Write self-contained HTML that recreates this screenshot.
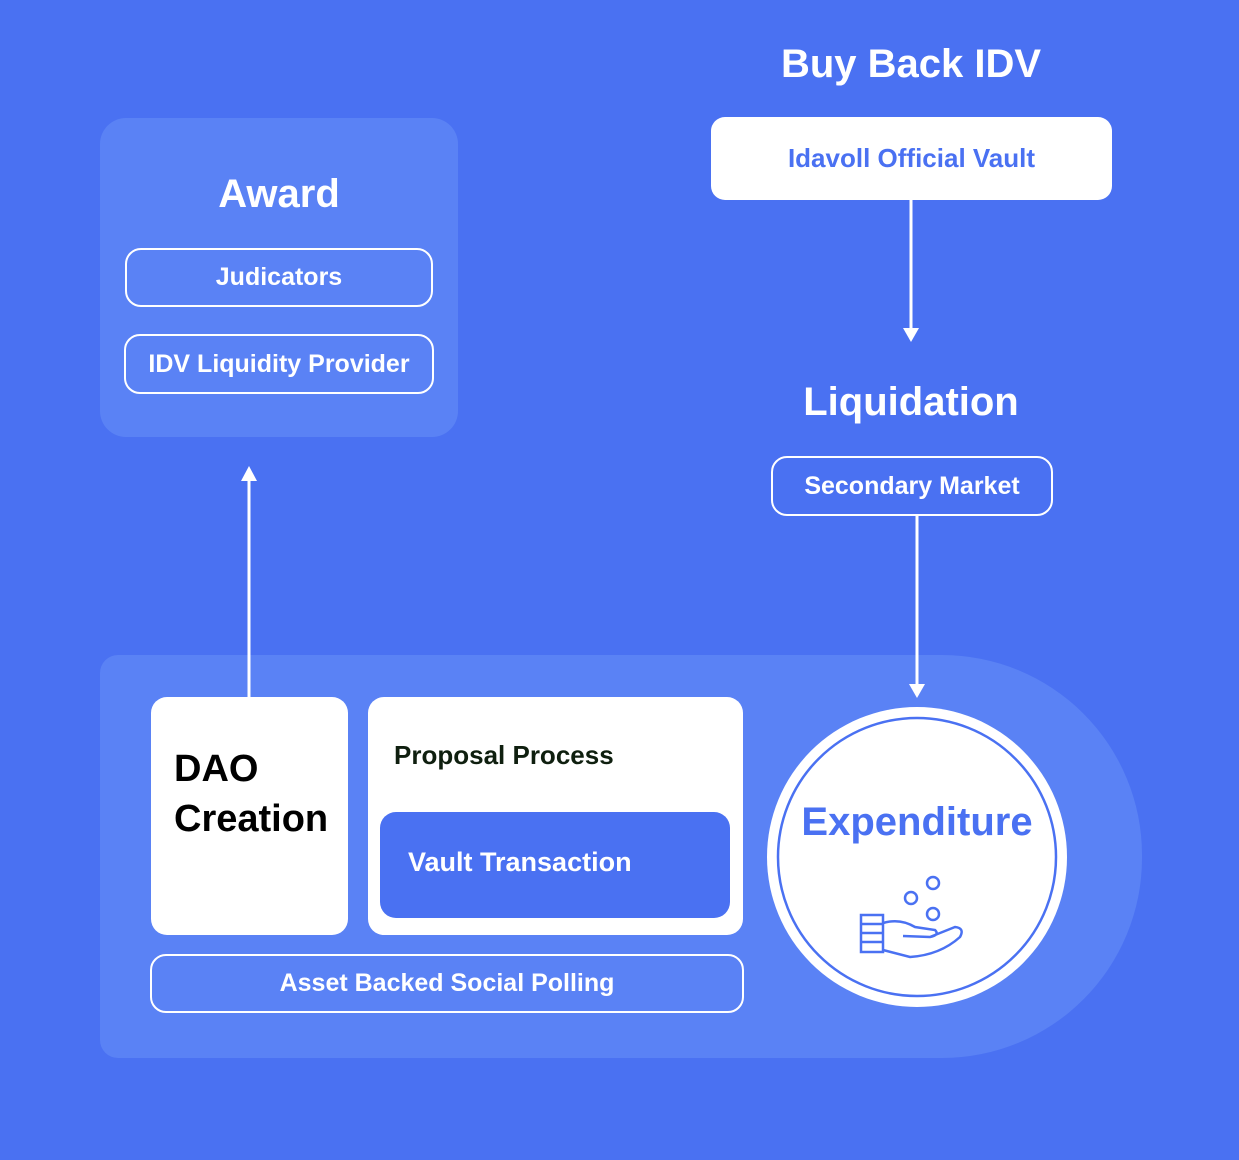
<!DOCTYPE html>
<html><head><style>
body{margin:0;width:1239px;height:1160px;background:#4a71f2;position:relative;overflow:hidden;font-family:"Liberation Sans",sans-serif;font-weight:bold}
.a{position:absolute;box-sizing:border-box}
.pill{border:2.5px solid #fff;border-radius:16px;color:#fff;display:flex;align-items:center;justify-content:center;font-size:25px}
.t{color:#fff;text-align:center}
</style></head><body>
<div class="a" style="left:100px;top:118px;width:358px;height:319px;background:#5a82f5;border-radius:26px"></div>
<div class="a t" style="left:100px;top:172px;width:358px;font-size:40px">Award</div>
<div class="a pill" style="left:125px;top:248px;width:308px;height:59px">Judicators</div>
<div class="a pill" style="left:124px;top:334px;width:310px;height:60px">IDV Liquidity Provider</div>

<div class="a t" style="left:710px;top:42px;width:402px;font-size:40px">Buy Back IDV</div>
<div class="a" style="left:711px;top:117px;width:401px;height:83px;background:#fff;border-radius:14px;color:#4a71f2;font-size:26px;display:flex;align-items:center;justify-content:center">Idavoll Official Vault</div>
<div class="a t" style="left:710px;top:380px;width:402px;font-size:40px">Liquidation</div>
<div class="a pill" style="left:771px;top:456px;width:282px;height:60px">Secondary Market</div>

<div class="a" style="left:100px;top:655px;width:1042px;height:403px;background:#5a82f5;border-radius:18px 200px 200px 18px"></div>

<svg class="a" style="left:0;top:0" width="1239" height="1160">
<line x1="249" y1="478" x2="249" y2="698" stroke="#fff" stroke-width="3"/>
<polygon points="241,481 257,481 249,466" fill="#fff"/>
<line x1="911" y1="200" x2="911" y2="330" stroke="#fff" stroke-width="3"/>
<polygon points="903,328 919,328 911,342" fill="#fff"/>
<line x1="917" y1="516" x2="917" y2="686" stroke="#fff" stroke-width="3"/>
<polygon points="909,684 925,684 917,698" fill="#fff"/>
<circle cx="917" cy="857" r="150" fill="#fff"/>
<circle cx="917" cy="857" r="139" fill="none" stroke="#4a71f2" stroke-width="2.5"/>
<g fill="none" stroke="#4a71f2" stroke-width="2.5">
<circle cx="933" cy="883" r="6"/><circle cx="911" cy="898" r="6"/><circle cx="933" cy="914" r="6"/>
<rect x="861" y="915" width="22" height="37"/>
<line x1="861" y1="924" x2="883" y2="924"/><line x1="861" y1="933" x2="883" y2="933"/><line x1="861" y1="942" x2="883" y2="942"/>
<path d="M883 923 Q900 918 915 927 L935 930 Q940 935 930 937 L903 936 M930 937 L955 927 Q965 928 960 937 Q940 955 910 957 L883 950"/>
</g>
</svg>
<div class="a" style="left:767px;top:800px;width:300px;text-align:center;color:#4a71f2;font-size:40px">Expenditure</div>

<div class="a" style="left:151px;top:697px;width:197px;height:238px;background:#fff;border-radius:16px"></div>
<div class="a" style="left:174px;top:744px;font-size:38px;line-height:50px;color:#000">DAO<br>Creation</div>
<div class="a" style="left:368px;top:697px;width:375px;height:238px;background:#fff;border-radius:16px"></div>
<div class="a" style="left:394px;top:740px;font-size:26px;color:#0f1f0f">Proposal Process</div>
<div class="a" style="left:380px;top:812px;width:350px;height:106px;background:#4a71f2;border-radius:16px;color:#fff;font-size:27px;padding:35px 0 0 28px">Vault Transaction</div>
<div class="a pill" style="left:150px;top:954px;width:594px;height:59px">Asset Backed Social Polling</div>
</body></html>
